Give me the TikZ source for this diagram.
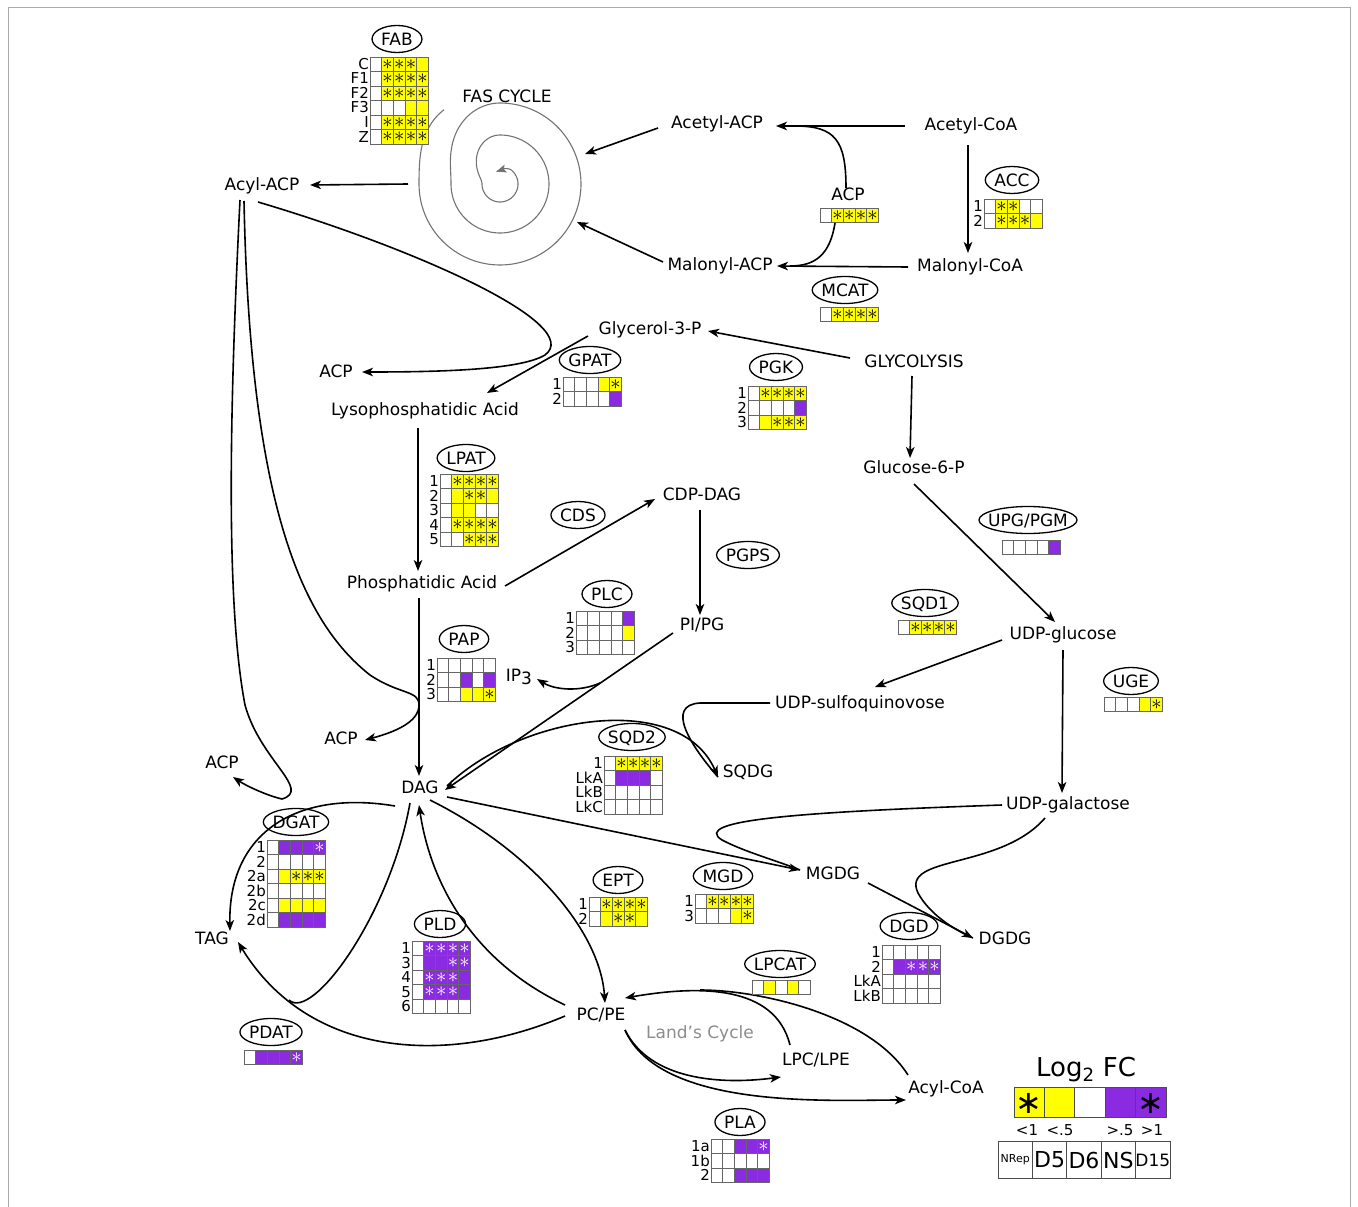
\documentclass[tikz,border=0pt]{standalone}
\usepackage{fontspec}
\setmainfont{DejaVu Sans}
\usetikzlibrary{arrows.meta,shapes.geometric,calc}
\definecolor{cyel}{RGB}{255,255,0}
\definecolor{cpur}{RGB}{138,43,226}
\definecolor{framec}{RGB}{170,170,170}
\newcommand\myfs[1]{\fontsize{#1}{#1}\selectfont}
\newcommand\grow[4]{%
  \node[rowlab] at (#1-1,#2+7.25) {#3};%
  \foreach \cc [count=\ii from 0] in {#4}{%
    \draw[cell,c\cc] (#1+\ii*11.7,#2) rectangle ++(11.7,14.5);%
  }}
\newcommand\enz[4]{%
  \node[enzt] (#1) at (#2,#3) {#4};%
  \draw[enzl] let \p1=($(#1.east)-(#1.west)$) in (#1.center) ellipse [x radius={0.5*\x1+9pt}, y radius=13.5pt];%
}
\tikzset{
  met/.style={font=\myfs{17}, inner sep=2pt, text height=12.4pt, text depth=3.6pt},
  enzt/.style={font=\myfs{17}, inner sep=0pt, text height=12.4pt, text depth=0pt},
  enzl/.style={line width=1.3pt},
  rowlab/.style={font=\myfs{15}, anchor=east, inner sep=0pt, text height=10.5pt, text depth=0pt},
  cell/.style={draw=black!60, line width=0.8pt},
  cw/.style={fill=white},
  cy/.style={fill=cyel},
  cY/.style={fill=cyel, path picture={\node[font=\myfs{20}, inner sep=0pt] at (path picture bounding box.center) {$\ast$};}},
  cp/.style={fill=cpur},
  cP/.style={fill=cpur, path picture={\node[font=\myfs{20}, inner sep=0pt, text=white] at (path picture bounding box.center) {$\ast$};}},
  ln/.style={line width=1.6pt},
  arr/.style={line width=1.6pt, -{Stealth[length=11pt,width=8.5pt,inset=3pt]}},
  spir/.style={line width=1.1pt, draw=black!55},
  legcell/.style={draw=black!70, line width=1pt},
}
\begin{document}
\begin{tikzpicture}[x=1pt,y=-1pt,
  declare function={sst(\x)=0.5-0.5*cos(180*min(1,max(0,\x)));
    rsp(\t)=81+12*(1-sst(\t/53))-32*sst((\t-323)/90)-31*sst((\t-683)/90)-5*sst((\t-1000)/60);}]
\useasboundingbox (0,0) rectangle (1358,1207);
\draw[framec, line width=1pt] (8,1207) -- (8,8) -- (1350,8) -- (1350,1207);

% ---------- metabolites ----------
\node[met] (fascyc) at (507,98) {FAS CYCLE};
\coordinate (fas) at (499,183);
\node[met] (aacp) at (717,124) {Acetyl-ACP};
\node[met] (acoa) at (971,126) {Acetyl-CoA};
\node[met] (acyl) at (262,186) {Acyl-ACP};
\node[met] (acpA) at (848,196) {ACP};
\node[met] (macp) at (720,266) {Malonyl-ACP};
\node[met] (mcoa) at (970,267) {Malonyl-CoA};
\node[met] (g3p) at (650,330) {Glycerol-3-P};
\node[met] (glyc) at (914,363) {GLYCOLYSIS};
\node[met] (acp1) at (336,373) {ACP};
\node[met] (lpa) at (425,411) {Lysophosphatidic Acid};
\node[met] (g6p) at (914,469) {Glucose-6-P};
\node[met] (cdp) at (702,496) {CDP-DAG};
\node[met] (pa) at (422,584) {Phosphatidic Acid};
\node[met] (pipg) at (702,626) {PI/PG};
\node[met] (udpg) at (1063,635) {UDP-glucose};
\node[met] (ip3) at (519,677) {IP\raisebox{-3pt}{3}};
\node[met] (udpsq) at (860,704) {UDP-sulfoquinovose};
\node[met] (acp2) at (341,740) {ACP};
\node[met] (acp3) at (222,764) {ACP};
\node[met] (sqdg) at (748,773) {SQDG};
\node[met] (dag) at (420,789) {DAG};
\node[met] (udpgal) at (1068,805) {UDP-galactose};
\node[met] (mgdg) at (833,875) {MGDG};
\node[met] (tag) at (212,940) {TAG};
\node[met] (dgdg) at (1005,940) {DGDG};
\node[met] (pcpe) at (601,1016) {PC/PE};
\node[met, text=black!45] (lands) at (700,1034) {Land's Cycle};
\node[met] (lpc) at (816,1061) {LPC/LPE};
\node[met] (acoaB) at (946,1089) {Acyl-CoA};

% ---------- FAS spiral ----------
\draw[spir, -{Stealth[length=10pt,width=8pt,inset=2pt]}] plot[domain=0:1060, samples=400, smooth, variable=\t]
  ({500+rsp(\t)*cos(233-\t)}, {184+rsp(\t)*sin(233-\t)});

% ---------- connectors ----------
\coordinate (j1) at ([shift={(78,2)}]aacp.center);
\coordinate (j2) at ([shift={(70,0)}]macp.center);
\coordinate (acpgb) at ([shift={(-13,27)}]acpA.center);
\draw[arr] ([shift={(-66,0)}]acoa.center) -- ([shift={(59,2)}]aacp.center);
\draw[ln] ([shift={(-2,-8)}]acpA.center) .. controls (846,140) and (835,126) .. (j1);
\draw[ln] (acpgb) .. controls (830,255) and (815,266) .. (j2);
\draw[arr] ([shift={(-3,19)}]acoa.center) -- ([shift={(-2,-14)}]mcoa.center);
\draw[arr] ([shift={(-62,0)}]mcoa.center) -- ([shift={(57,0)}]macp.center);
\draw[arr] ([shift={(-59,4)}]aacp.center) -- ([shift={(86,-29)}]fas);
\draw[arr] ([shift={(-57,-4)}]macp.center) -- ([shift={(78,39)}]fas);
\draw[arr] ([shift={(-91,1)}]fas) -- ([shift={(48,-1)}]acyl.center);
\draw[arr] ([shift={(-62,6)}]g3p.center) -- ([shift={(62,-18)}]lpa.center);
\draw[arr] ([shift={(-64,-5)}]glyc.center) -- ([shift={(58,1)}]g3p.center);
\draw[arr] ([shift={(-2,13)}]glyc.center) -- ([shift={(-4,-11)}]g6p.center);
\draw[arr] ([shift={(-7,17)}]lpa.center) -- ([shift={(-4,-13)}]pa.center);
\draw[arr] ([shift={(83,2)}]pa.center) -- ([shift={(-47,3)}]cdp.center);
\draw[arr] ([shift={(-2,14)}]cdp.center) -- ([shift={(-2,-11)}]pipg.center);
\draw[arr] ([shift={(0,15)}]g6p.center) -- ([shift={(-8,-13)}]udpg.center);
\draw[arr] ([shift={(-61,5)}]udpg.center) -- ([shift={(15,-17)}]udpsq.center);
\draw[arr] ([shift={(0,15)}]udpg.center) -- ([shift={(-6,-12)}]udpgal.center);
\draw[arr] ([shift={(-3,14)}]pa.center) -- ([shift={(-1,-13)}]dag.center);
% Acyl-ACP -> ACP hairpin at G3P->LPA
\draw[arr] ([shift={(-4,16)}]acyl.center) .. controls (420,250) and (585,325) .. (545,355) .. controls (520,370) and (440,372) .. ([shift={(26,-1)}]acp1.center);
% Acyl-ACP -> PA->DAG, ACP out
\coordinate (j3) at ([shift={(-1,-84)}]dag.center);
\draw[ln] ([shift={(-18,15)}]acyl.center) .. controls (250,500) and (300,620) .. (370,675) .. controls (400,695) and (419,690) .. (j3);
\draw[arr] (j3) .. controls (419,722) and (395,732) .. ([shift={(24,0)}]acp2.center);
% PI/PG -> DAG and IP3
\coordinate (j4) at ([shift={(-102,57)}]pipg.center);
\draw[arr] ([shift={(-29,7)}]pipg.center) -- ([shift={(25,1)}]dag.center);
\draw[arr] (j4) .. controls (580,692) and (555,690) .. ([shift={(18,2)}]ip3.center);
% SQDG
\draw[arr] ([shift={(27,-3)}]dag.center) .. controls (520,715) and (680,690) .. ([shift={(-30,4)}]sqdg.center);
\draw[ln] ([shift={(-90,-1)}]udpsq.center) -- (700,703) .. controls (665,705) and (690,745) .. ([shift={(-30,4)}]sqdg.center);
% MGDG
\draw[arr] ([shift={(27,8)}]dag.center) -- ([shift={(-33,-5)}]mgdg.center);
\draw[ln] ([shift={(-66,0)}]udpgal.center) .. controls (800,812) and (690,820) .. (722,840) .. controls (745,852) and (775,860) .. ([shift={(-33,-5)}]mgdg.center);
% DGDG
\draw[arr] ([shift={(35,8)}]mgdg.center) -- ([shift={(-32,-2)}]dgdg.center);
\draw[ln] ([shift={(-23,13)}]udpgal.center) .. controls (1000,870) and (900,855) .. (918,893) .. controls (930,915) and (955,930) .. ([shift={(-32,-2)}]dgdg.center);
% TAG / ACP left
\coordinate (j5) at (282,799);
\draw[arr] ([shift={(-22,14)}]acyl.center) .. controls (230,400) and (225,600) .. (245,705) .. controls (260,760) and (312,790) .. (j5) .. controls (265,795) and (245,785) .. ([shift={(11,13)}]acp3.center);
\draw[arr] ([shift={(-25,17)}]dag.center) .. controls (300,790) and (228,830) .. ([shift={(18,-9)}]tag.center);
% DAG <-> PC/PE
\draw[arr] ([shift={(10,11)}]dag.center) .. controls (530,850) and (600,930) .. ([shift={(4,-13)}]pcpe.center);
\draw[arr] ([shift={(-36,-11)}]pcpe.center) .. controls (470,960) and (430,880) .. ([shift={(-1,16)}]dag.center);
\coordinate (j6) at (289,1000);
\draw[arr] ([shift={(-36,0)}]pcpe.center) .. controls (450,1065) and (310,1060) .. ([shift={(26,2)}]tag.center);
\draw[ln] ([shift={(-10,14)}]dag.center) .. controls (390,915) and (312,1022) .. (j6);
% Land's cycle
\draw[arr] ([shift={(24,14)}]pcpe.center) .. controls (650,1080) and (720,1085) .. ([shift={(-35,16)}]lpc.center);
\draw[arr] ([shift={(24,14)}]pcpe.center) .. controls (660,1110) and (830,1100) .. ([shift={(-40,11)}]acoaB.center);
\draw[arr] ([shift={(-26,-16)}]lpc.center) .. controls (775,985) and (700,985) .. ([shift={(24,-18)}]pcpe.center);
\draw[ln] ([shift={(-38,-14)}]acoaB.center) .. controls (870,1015) and (760,990) .. (700,990);

% ---------- enzymes ----------
\enz{fab}{397}{39}{FAB}
\enz{acc}{1012}{180}{ACC}
\enz{mcat}{845}{290}{MCAT}
\enz{gpat}{590}{360}{GPAT}
\enz{pgk}{776}{367}{PGK}
\enz{lpat}{466}{458}{LPAT}
\enz{cds}{578}{515}{CDS}
\enz{pgps}{748}{555}{PGPS}
\enz{upg}{1028}{520}{UPG/PGM}
\enz{plc}{607}{594}{PLC}
\enz{sqdA}{925}{603}{SQD1}
\enz{pap}{464}{639}{PAP}
\enz{uge}{1131}{681}{UGE}
\enz{sqdB}{632}{737}{SQD2}
\enz{dgat}{296}{822}{DGAT}
\enz{ept}{618}{880}{EPT}
\enz{mgd}{723}{876}{MGD}
\enz{pld}{440}{924}{PLD}
\enz{dgd}{909}{926}{DGD}
\enz{lpcat}{780}{964}{LPCAT}
\enz{pdat}{271}{1032}{PDAT}
\enz{pla}{740}{1122}{PLA}

% ---------- grids ----------
\grow{370}{57}{C}{w,Y,Y,Y,y}
\grow{370}{71.5}{F1}{w,Y,Y,Y,Y}
\grow{370}{86}{F2}{w,Y,Y,Y,Y}
\grow{370}{100.5}{F3}{w,w,w,y,y}
\grow{370}{115}{I}{w,Y,Y,Y,Y}
\grow{370}{129.5}{Z}{w,Y,Y,Y,Y}
\grow{820}{208}{}{w,Y,Y,Y,Y}
\grow{984}{199}{1}{w,Y,Y,w,w}
\grow{984}{213.5}{2}{w,Y,Y,Y,y}
\grow{820}{307}{}{w,Y,Y,Y,Y}
\grow{563}{377}{1}{w,w,w,y,Y}
\grow{563}{391.5}{2}{w,w,w,w,p}
\grow{748}{386}{1}{w,Y,Y,Y,Y}
\grow{748}{400.5}{2}{w,w,w,w,p}
\grow{748}{415}{3}{w,y,Y,Y,Y}
\grow{440}{474}{1}{w,Y,Y,Y,Y}
\grow{440}{488.5}{2}{w,y,Y,Y,y}
\grow{440}{503}{3}{w,y,y,w,w}
\grow{440}{517.5}{4}{w,Y,Y,Y,Y}
\grow{440}{532}{5}{w,w,Y,Y,Y}
\grow{1002}{540}{}{w,w,w,w,p}
\grow{576}{611}{1}{w,w,w,w,p}
\grow{576}{625.5}{2}{w,w,w,w,y}
\grow{576}{640}{3}{w,w,w,w,w}
\grow{898}{620}{}{w,Y,Y,Y,Y}
\grow{437}{658}{1}{w,w,w,w,w}
\grow{437}{672.5}{2}{w,w,p,w,p}
\grow{437}{687}{3}{w,w,y,y,Y}
\grow{1104}{697}{}{w,w,w,y,Y}
\grow{604}{756}{1}{w,Y,Y,Y,Y}
\grow{604}{770.5}{LkA}{w,p,p,p,w}
\grow{604}{785}{LkB}{w,w,w,w,w}
\grow{604}{799.5}{LkC}{w,w,w,w,w}
\grow{267}{840}{1}{w,p,p,p,P}
\grow{267}{854.5}{2}{w,w,w,w,w}
\grow{267}{869}{2a}{w,y,Y,Y,Y}
\grow{267}{883.5}{2b}{w,w,w,w,w}
\grow{267}{898}{2c}{w,y,y,y,y}
\grow{267}{912.5}{2d}{w,p,p,p,p}
\grow{589}{897}{1}{w,Y,Y,Y,Y}
\grow{589}{911.5}{2}{w,y,Y,Y,y}
\grow{695}{894}{1}{w,Y,Y,Y,Y}
\grow{695}{908.5}{3}{w,w,w,y,Y}
\grow{412}{941}{1}{w,P,P,P,P}
\grow{412}{955.5}{3}{w,p,p,P,P}
\grow{412}{970}{4}{w,P,P,P,p}
\grow{412}{984.5}{5}{w,P,P,P,p}
\grow{412}{999}{6}{w,w,w,w,w}
\grow{882}{945}{1}{w,w,w,w,w}
\grow{882}{959.5}{2}{w,p,P,P,P}
\grow{882}{974}{LkA}{w,w,w,w,w}
\grow{882}{988.5}{LkB}{w,w,w,w,w}
\grow{752}{980}{}{w,y,w,y,w}
\grow{244}{1050}{}{w,p,p,p,P}
\grow{711}{1139}{1a}{w,w,p,p,P}
\grow{711}{1153.5}{1b}{w,w,w,w,w}
\grow{711}{1168}{2}{w,w,p,p,p}

% ---------- legend ----------
\node[font=\myfs{26}, inner sep=0pt] (logfc) at (1086,1070) {Log\textsubscript{2} FC};
\foreach \col [count=\ii from 0] in {cyel,cyel,white,cpur,cpur}
  \draw[legcell, fill=\col] (1014+\ii*30.4,1087) rectangle ++(30.4,30);
\node[font=\myfs{32}, inner sep=0pt] (lsa) at (1029.2,1103) {∗};
\node[font=\myfs{32}, inner sep=0pt] (lsb) at (1151,1103) {∗};
\node[font=\myfs{15}, inner sep=0pt] (la) at (1027,1130) {<1};
\node[font=\myfs{15}, inner sep=0pt] (lb) at (1060,1130) {<.5};
\node[font=\myfs{15}, inner sep=0pt] (lc) at (1120,1130) {>.5};
\node[font=\myfs{15}, inner sep=0pt] (ld) at (1152,1130) {>1};
\foreach \ii in {0,...,4}
  \draw[legcell] (998+\ii*34.4,1141) rectangle ++(34.4,37);
\node[font=\myfs{11}, inner sep=0pt] (ta) at (1015.2,1160) {NRep};
\node[font=\myfs{22}, inner sep=0pt] (tb) at (1049.6,1160) {D5};
\node[font=\myfs{22}, inner sep=0pt] (tc) at (1084,1160) {D6};
\node[font=\myfs{22}, inner sep=0pt] (td) at (1118.4,1160) {NS};
\node[font=\myfs{17}, inner sep=0pt] (te) at (1152.8,1160) {D15};
\end{tikzpicture}
\end{document}
